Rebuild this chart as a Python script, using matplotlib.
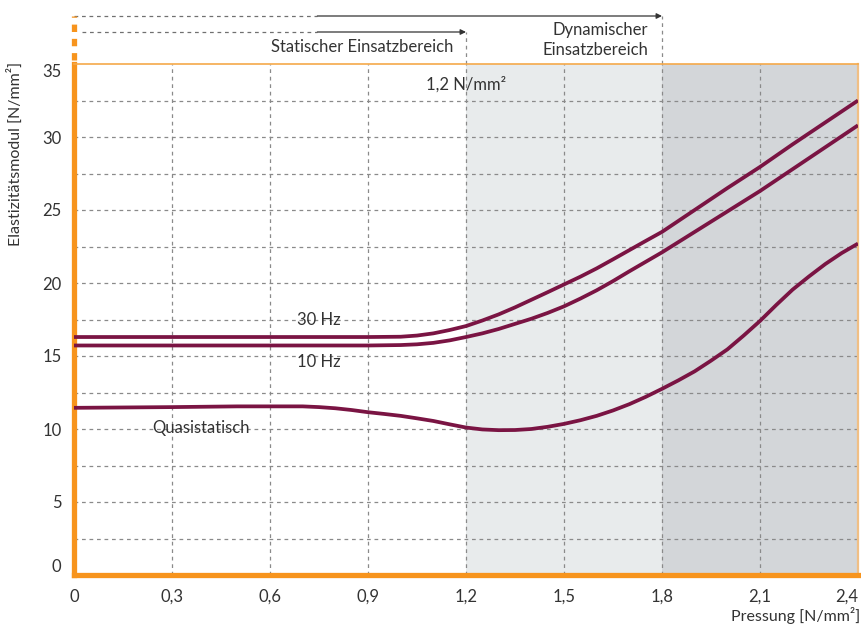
import matplotlib.pyplot as plt
from matplotlib.transforms import blended_transform_factory

plt.rcParams['font.family'] = ['Lato', 'DejaVu Sans']

x_30 = [0, 0.9, 1.0, 1.05, 1.1, 1.15, 1.2, 1.25, 1.3, 1.35, 1.4, 1.45, 1.5, 1.55, 1.6, 1.65, 1.7, 1.75,
        1.8, 1.9, 2.0, 2.1, 2.2, 2.3, 2.4]
e_30hz = [16.3, 16.3, 16.32, 16.4, 16.55, 16.78, 17.05, 17.43, 17.85, 18.33, 18.85, 19.37, 19.9, 20.43,
          21.0, 21.62, 22.25, 22.88, 23.5, 25.0, 26.5, 27.95, 29.5, 31.0, 32.5]
e_10hz = [15.72, 15.72, 15.75, 15.8, 15.9, 16.07, 16.3, 16.55, 16.85, 17.2, 17.55, 17.95, 18.4, 18.93,
          19.5, 20.13, 20.8, 21.45, 22.1, 23.5, 24.9, 26.3, 27.8, 29.3, 30.8]

x_qs = [0, 0.3, 0.5, 0.7, 0.75, 0.8, 0.85, 0.9, 0.95, 1.0, 1.05, 1.1, 1.15, 1.2, 1.25, 1.3, 1.35, 1.4,
        1.45, 1.5, 1.55, 1.6, 1.65, 1.7, 1.75, 1.8, 1.85, 1.9, 1.95, 2.0, 2.05, 2.1, 2.15, 2.2, 2.25,
        2.3, 2.35, 2.4]
e_qs = [11.45, 11.5, 11.55, 11.55, 11.5, 11.42, 11.3, 11.15, 11.03, 10.9, 10.73, 10.55, 10.32, 10.1,
        9.97, 9.92, 9.93, 10.0, 10.15, 10.35, 10.6, 10.9, 11.27, 11.7, 12.2, 12.75, 13.33, 13.95, 14.68,
        15.45, 16.4, 17.4, 18.5, 19.55, 20.45, 21.3, 22.05, 22.7]

x_ticks = [0, 0.3, 0.6, 0.9, 1.2, 1.5, 1.8, 2.1, 2.4]
x_labels = ['0', '0,3', '0,6', '0,9', '1,2', '1,5', '1,8', '2,1', '2,4']
y_ticks = [0, 5, 10, 15, 20, 25, 30, 35]

orange = '#f7941d'
maroon = '#7a1443'
txt = '#333333'

fig = plt.figure(figsize=(8.62, 6.24), dpi=100)
ax = fig.add_axes([74 / 862, 49 / 624, 784 / 862, 511 / 624])

ax.axvspan(1.2, 1.8, color='#e8ebec', zorder=0, lw=0)
ax.axvspan(1.8, 2.4, color='#d3d6d9', zorder=0, lw=0)

for gx in x_ticks[1:-1]:
    ax.axvline(gx, color='#8a8a8a', lw=0.9, ls=(0, (3, 3)), zorder=1)
for gy in [2.5 * i for i in range(1, 14)]:
    ax.axhline(gy, color='#8a8a8a', lw=0.9, ls=(0, (3, 3)), zorder=1)

for xs, ys in [(x_30, e_30hz), (x_30, e_10hz), (x_qs, e_qs)]:
    ax.plot(xs, ys, color=maroon, lw=2.7, zorder=3, solid_capstyle='butt', solid_joinstyle='round')

ax.set_xlim(0, 2.4)
ax.set_ylim(0, 35)
ax.set_xticks(x_ticks)
ax.set_xticklabels(x_labels)
ax.set_yticks(y_ticks)
ax.set_yticklabels([str(v) for v in y_ticks])
ax.tick_params(length=0, labelsize=12, labelcolor=txt)
ax.tick_params(axis='x', pad=10)
ax.tick_params(axis='y', pad=9)
ylabs = ax.get_yticklabels()
ylabs[0].set_va('bottom')
ylabs[-1].set_va('top')
xlabs = ax.get_xticklabels()
xlabs[-1].set_ha('right')

ax.spines['left'].set_color(orange)
ax.spines['left'].set_linewidth(3.8)
ax.spines['bottom'].set_color(orange)
ax.spines['bottom'].set_linewidth(3.8)
ax.spines['top'].set_color('#f5a94a')
ax.spines['top'].set_linewidth(1.2)
ax.spines['right'].set_color('#f0bf85')
ax.spines['right'].set_linewidth(1.6)

ax.text(0.75, 17.45, '30 Hz', ha='center', va='center', fontsize=12, color=txt, zorder=4)
ax.text(0.75, 14.6, '10 Hz', ha='center', va='center', fontsize=12, color=txt, zorder=4)
ax.text(0.24, 10.1, 'Quasistatisch', ha='left', va='center', fontsize=12, color=txt, zorder=4)
ax.text(1.2, 33.6, '1,2 N/mm²', ha='center', va='center', fontsize=12, color=txt, zorder=4)

# ranges drawn above the plot area
tr = blended_transform_factory(ax.transData, ax.transAxes)
y_top = 1 + 48 / 511
y_mid = 1 + 32 / 511
ax.plot([0, 0.745], [y_top, y_top], color='#707070', lw=0.9, ls=(0, (3, 3)), transform=tr, clip_on=False)
ax.plot([0.025, 0.745], [y_mid, y_mid], color='#707070', lw=0.9, ls=(0, (3, 3)), transform=tr, clip_on=False)
for x_end, yy in [(1.8, y_top), (1.2, y_mid)]:
    ax.annotate('', xy=(x_end, yy), xycoords=tr, xytext=(0.745, yy), textcoords=tr,
                arrowprops=dict(arrowstyle='-|>', color='#333333', lw=0.9, mutation_scale=8,
                                shrinkA=0, shrinkB=0))
ax.plot([1.2, 1.2], [1, y_mid], color='#8a8a8a', lw=0.9, ls=(0, (3, 3)), transform=tr, clip_on=False)
ax.plot([1.8, 1.8], [1, y_top], color='#8a8a8a', lw=0.9, ls=(0, (3, 3)), transform=tr, clip_on=False)
ax.plot([0, 0], [1.008, y_top], color=orange, lw=3.8, ls=(0, (1.4, 1.3)), transform=tr,
        clip_on=False, solid_capstyle='butt', dash_capstyle='butt')

ax.text(1.161, 1 + 17 / 511, 'Statischer Einsatzbereich', ha='right', va='center', fontsize=12,
        color=txt, transform=tr)
ax.text(1.758, 1 + 24 / 511, 'Dynamischer\nEinsatzbereich', ha='right', va='center', fontsize=12,
        color=txt, transform=tr, linespacing=1.25)

fig.text(15 / 862, 1 - 62 / 624, 'Elastizitätsmodul [N/mm²]', rotation=90, ha='center', va='top',
         fontsize=11.5, color=txt)
fig.text(860 / 862, 1 - 616 / 624, 'Pressung [N/mm²]', ha='right', va='center', fontsize=11.5, color=txt)

fig.savefig('out.png', dpi=100)
